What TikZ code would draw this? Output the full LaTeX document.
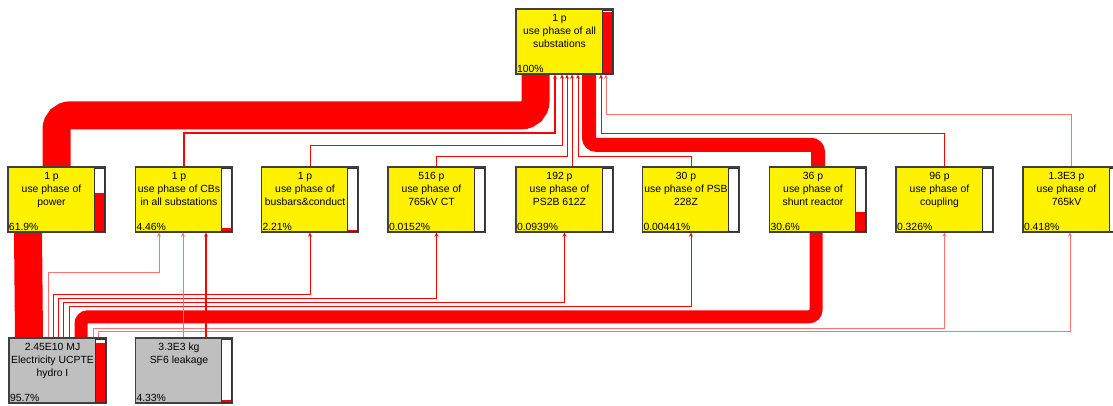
\documentclass[tikz,border=0pt]{standalone}
\usepackage{fontspec}
\setmainfont{Liberation Sans}
\usetikzlibrary{arrows.meta,backgrounds}

\tikzset{
  unitbox/.style={draw=black!75, line width=1.4pt, minimum width=97pt,
    minimum height=65pt, inner sep=0pt},
  boxtext/.style={anchor=north, align=center, inner sep=0pt,
    font=\fontsize{10.4}{13}\selectfont},
  pcttext/.style={anchor=base west, inner sep=0pt,
    font=\fontsize{10.4}{13}\selectfont},
  stream/.style={draw=red, line width=#1},
  wire/.style={draw=red, line width=1pt, -{Stealth[length=4pt,width=4pt]}},
  faint/.style={wire, draw=red!55},
}

\begin{document}
\begin{tikzpicture}[x=1pt, y=-1pt]
  \useasboundingbox (0,0) rectangle (1113,405);
  \clip (0,0) rectangle (1113,405);

  % Process boxes with their share bars
  \foreach \nm/\xx/\yy/\col/\txt/\pct in {
    top/564.5/41.5/yellow/{1 p\\use phase of all\\substations}/100,
    power/56.5/199.5/yellow/{1 p\\use phase of\\power}/61.9,
    cbs/184/199.5/yellow/{1 p\\use phase of CBs\\in all substations}/4.46,
    busbars/310/199.5/yellow/{1 p\\use phase of\\busbars\&conduct}/2.21,
    ct/436.5/199.5/yellow/{516 p\\use phase of\\765kV CT}/0.0152,
    ps2b/564.5/199.5/yellow/{192 p\\use phase of\\PS2B 612Z}/0.0939,
    psb/691/199.5/yellow/{30 p\\use phase of PSB\\228Z}/0.00441,
    shunt/818/199.5/yellow/{36 p\\use phase of\\shunt reactor}/30.6,
    coupling/944.5/199.5/yellow/{96 p\\use phase of\\coupling}/0.326,
    kv/1071.5/199.5/yellow/{1.3E3 p\\use phase of\\765kV}/0.418,
    elec/57.5/370.5/black!25/{2.45E10 MJ\\Electricity UCPTE\\hydro I}/95.7,
    sf6/184/370.5/black!25/{3.3E3 kg\\SF6 leakage}/4.33}{
    \node[unitbox, fill=\col] (\nm) at (\xx,\yy) {};
    \node[boxtext] (\nm-txt) at ([xshift=-5pt,yshift=-5.5pt]\nm.north) {\txt};
    \node[pcttext] (\nm-pct) at ([xshift=1.5pt,yshift=2.5pt]\nm.south west) {\pct\%};
    \pgfmathsetmacro\hh{61.5*\pct/100}
    \fill[white] ([xshift=-11.5pt,yshift=1.5pt]\nm.south east)
      rectangle ([xshift=-1.5pt,yshift=-2pt]\nm.north east);
    \fill[red] ([xshift=-11.5pt,yshift=1.5pt]\nm.south east) rectangle ++(10,-\hh);
    \draw[black!80, line width=1pt] ([xshift=-11.5pt,yshift=1.5pt]\nm.south east)
      rectangle ([xshift=-1.5pt,yshift=-2pt]\nm.north east);
  }

  \begin{scope}[on background layer]
    % Flows into the substation total
    \draw[stream=28pt, rounded corners=14pt]
      (power.north) -- ++(0,-51) -| ([xshift=-29pt]top.south);
    \draw[wire, line width=2pt] (cbs.north) -- ++(0,-33) -| ([xshift=-9.5pt]top.south);
    \draw[wire] (busbars.north) -- ++(0,-21) -| ([xshift=-2.5pt]top.south);
    \draw[wire] (ct.north) -- ++(0,-10) -| ([xshift=2.5pt]top.south);
    \draw[wire] ([xshift=7.5pt]ps2b.north) -- ([xshift=7.5pt]top.south);
    \draw[wire] (psb.north) -- ++(0,-10) -| ([xshift=13.5pt]top.south);
    \draw[stream=14pt, rounded corners=7pt]
      (shunt.north) -- ++(0,-21.5) -| ([xshift=24.5pt]top.south);
    \draw[wire] (coupling.north) -- ++(0,-33) -| ([xshift=36.5pt]top.south);
    \draw[faint] (kv.north) -- ++(0,-52) -| ([xshift=41.5pt]top.south);

    % Flows out of the electricity mix
    \draw[stream=28pt] ([xshift=-28.5pt]elec.north) -- ([xshift=-28.5pt]power.south);
    \draw[faint] ([xshift=-9.5pt]elec.north) -- ++(0,-65) -| ([xshift=-25pt]cbs.south);
    \draw[wire] ([xshift=-4.5pt]elec.north) -- ++(0,-43) -| (busbars.south);
    \draw[wire] ([xshift=0.5pt]elec.north) -- ++(0,-39) -| (ct.south);
    \draw[wire] ([xshift=5.5pt]elec.north) -- ++(0,-35) -| (ps2b.south);
    \draw[wire] ([xshift=11.5pt]elec.north) -- ++(0,-31) -| (psb.south);
    \draw[stream=13pt, rounded corners=7pt]
      ([xshift=23.5pt]elec.north) -- ++(0,-20.5) -| ([xshift=-2pt]shunt.south);
    \draw[faint] ([xshift=35.5pt]elec.north) -- ++(0,-9) -| (coupling.south);
    \draw[faint] ([xshift=40.5pt]elec.north) -- ++(0,-6) -| ([xshift=-1.5pt]kv.south);

    % SF6 into the breakers
    \draw[faint] ([xshift=-1pt]sf6.north) -- ([xshift=-1pt]cbs.south);
    \draw[wire, line width=2pt] ([xshift=22pt]sf6.north) -- ([xshift=22pt]cbs.south);
  \end{scope}
\end{tikzpicture}
\end{document}
